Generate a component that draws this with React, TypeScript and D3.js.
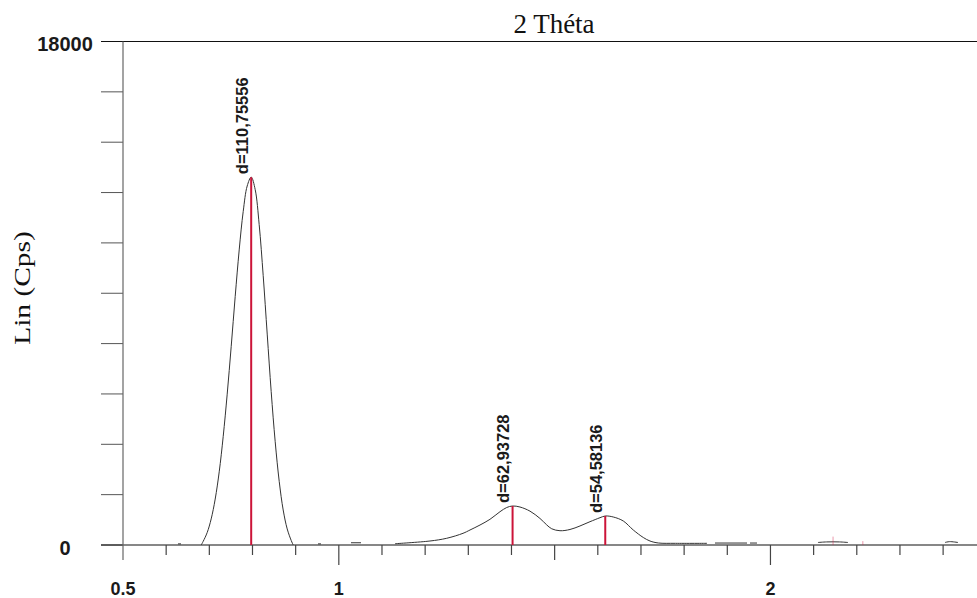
import React from "react";
import * as d3 from "d3";

// Diffractogram: intensity (Lin, counts per second) versus 2θ (degrees)
const WIDTH = 977;
const HEIGHT = 598;

// Cu Kα wavelength (Å) used to place the indexed reflections
const WAVELENGTH = 1.5406;

// Indexed reflections: interplanar spacing d (Å) and peak intensity (cps)
const peakD = [110.75556, 62.93728, 54.58136];
const peakCounts = [13150, 1394, 1037];

// Small unlabelled markers in the high-angle tail
const minorPeakTwoTheta = [2.145, 2.214];
const minorPeakCounts = [300, 140];

// Axis ticks
const yTickValues = d3.range(0, 18001, 1800);
const yTickLabels = [0, 18000];
const xTickValues = d3.range(0, 20).map((i) => +(0.5 + i * 0.1).toFixed(1));
const xTickLabels = [0.5, 1, 2];

// Measured scan, as separate traced segments [2θ, cps]
const mainPeakScan: [number, number][] = [
  [0.6812, 0], [0.6858, 131], [0.6951, 447], [0.7043, 933], [0.7136, 1642],
  [0.7229, 2616], [0.7321, 3872], [0.7414, 5392], [0.7507, 7102], [0.7599, 8878],
  [0.7692, 10549], [0.7785, 11925], [0.7877, 12833], [0.797, 13150], [0.8063, 12703],
  [0.8155, 11453], [0.8248, 9629], [0.8341, 7540], [0.8433, 5488], [0.8526, 3693],
  [0.8619, 2276], [0.8711, 1252], [0.8804, 575], [0.8897, 161], [0.8943, 0],
];

const doubletScan: [number, number][] = [
  [1.1302, 46], [1.2112, 143], [1.2499, 240], [1.2877, 418], [1.3039, 536],
  [1.3271, 715], [1.3502, 918], [1.3734, 1190], [1.3889, 1340], [1.4025, 1394],
  [1.4197, 1358], [1.4429, 1210], [1.466, 950], [1.4816, 720], [1.4932, 580],
  [1.5124, 510], [1.5356, 555], [1.5587, 680], [1.5819, 833], [1.6051, 976],
  [1.6173, 1037], [1.6359, 1001], [1.6591, 858], [1.6822, 536], [1.7054, 268],
  [1.7209, 143], [1.7402, 72], [1.78, 60], [1.853, 60],
];

const baselineScan: [number, number][][] = [
  [[0.6274, 40], [0.6344, 40]],
  [[0.9518, 40], [0.9587, 40]],
  [[1.0282, 80], [1.0514, 80]],
  [[1.8715, 70], [1.9457, 70]],
  [[1.9526, 70], [1.9688, 70]],
  [[2.1101, 90], [2.13, 110], [2.16, 110], [2.1796, 90]],
  [[2.4044, 90], [2.415, 120], [2.4345, 90]],
];

const scanSegments = [mainPeakScan, doubletScan, ...baselineScan];

// Bragg's law: 2θ (degrees) from d spacing
const twoThetaFromD = (d: number) =>
  (2 * Math.asin(WAVELENGTH / (2 * d)) * 180) / Math.PI;

const formatD = (d: number) => `d=${String(d).replace(".", ",")}`;

export default function App() {
  const x = d3.scaleLinear().domain([0.5, 2.4785]).range([123, 977]);
  const y = d3.scaleLinear().domain([0, 18000]).range([545, 41.5]);

  const line = d3
    .line<[number, number]>()
    .x((d) => x(d[0]))
    .y((d) => Math.min(y(0), y(d[1])))
    .curve(d3.curveCatmullRom.alpha(0.5));

  const peaks = peakD.map((d, i) => ({
    d,
    tt: twoThetaFromD(d),
    counts: peakCounts[i],
    label: formatD(d),
  }));

  const sans = "'Liberation Sans', Arial, sans-serif";
  const serif = "'Liberation Serif', 'Times New Roman', serif";

  const tickLen = (v: number) => {
    if (Math.abs(v - 1) < 1e-6 || Math.abs(v - 2) < 1e-6) return 20;
    if (Math.abs(v - 1.5) < 1e-6) return 15;
    return 10;
  };

  return (
    <svg
      width={WIDTH}
      height={HEIGHT}
      style={{ position: "absolute", left: 0, top: 0, background: "#fff" }}
    >
      <rect x={0} y={0} width={WIDTH} height={HEIGHT} fill="#fff" />

      {/* title */}
      <text x={554} y={33} textAnchor="middle" fontFamily={serif} fontSize={27} fill="#111">
        2 Théta
      </text>

      {/* y axis title */}
      <text
        transform={`translate(30,288) rotate(-90) scale(1.28,1)`}
        textAnchor="middle"
        fontFamily={serif}
        fontSize={23}
        fill="#111"
      >
        Lin (Cps)
      </text>

      {/* y ticks */}
      {yTickValues.map((v) => (
        <line key={`yt${v}`} x1={101} x2={123} y1={y(v)} y2={y(v)} stroke="#555" strokeWidth={1} />
      ))}
      {yTickLabels.map((v) => (
        <text
          key={`yl${v}`}
          x={65}
          y={y(v) + 9.5}
          textAnchor="middle"
          fontFamily={sans}
          fontWeight="bold"
          fontSize={20}
          fill="#1a1a1a"
        >
          {v}
        </text>
      ))}

      {/* frame: top border, x axis, y axis */}
      <line x1={101} x2={977} y1={y(18000)} y2={y(18000)} stroke="#111" strokeWidth={1.2} />
      <line x1={101} x2={977} y1={y(0)} y2={y(0)} stroke="#111" strokeWidth={1.2} />
      <line x1={123} x2={123} y1={y(18000)} y2={560} stroke="#666" strokeWidth={1.2} />

      {/* x ticks */}
      {xTickValues
        .filter((v) => v > 0.55)
        .map((v) => (
          <line
            key={`xt${v}`}
            x1={x(v)}
            x2={x(v)}
            y1={y(0)}
            y2={y(0) + tickLen(v)}
            stroke="#444"
            strokeWidth={1.2}
          />
        ))}
      {xTickLabels.map((v) => (
        <text
          key={`xl${v}`}
          x={x(v)}
          y={595}
          textAnchor="middle"
          fontFamily={sans}
          fontWeight="bold"
          fontSize={18}
          fill="#1a1a1a"
        >
          {v}
        </text>
      ))}

      {/* scan trace */}
      {scanSegments.map((seg, i) => (
        <path key={`s${i}`} d={line(seg) ?? ""} fill="none" stroke="#333" strokeWidth={1} />
      ))}

      {/* minor markers */}
      {minorPeakTwoTheta.map((tt, i) => (
        <line
          key={`mp${i}`}
          x1={x(tt)}
          x2={x(tt)}
          y1={y(0)}
          y2={y(minorPeakCounts[i])}
          stroke="#d4204a"
          strokeOpacity={0.45}
          strokeWidth={1}
        />
      ))}

      {/* indexed peaks */}
      {peaks.map((p) => (
        <g key={p.label}>
          <line
            x1={x(p.tt)}
            x2={x(p.tt)}
            y1={y(0)}
            y2={y(p.counts)}
            stroke="#cc1439"
            strokeWidth={2}
          />
          <text
            transform={`translate(${x(p.tt) - 3.5},${y(p.counts) - 3}) rotate(-90)`}
            fontFamily={sans}
            fontWeight="bold"
            fontSize={16.5}
            fill="#1a1a1a"
          >
            {p.label}
          </text>
        </g>
      ))}
    </svg>
  );
}
